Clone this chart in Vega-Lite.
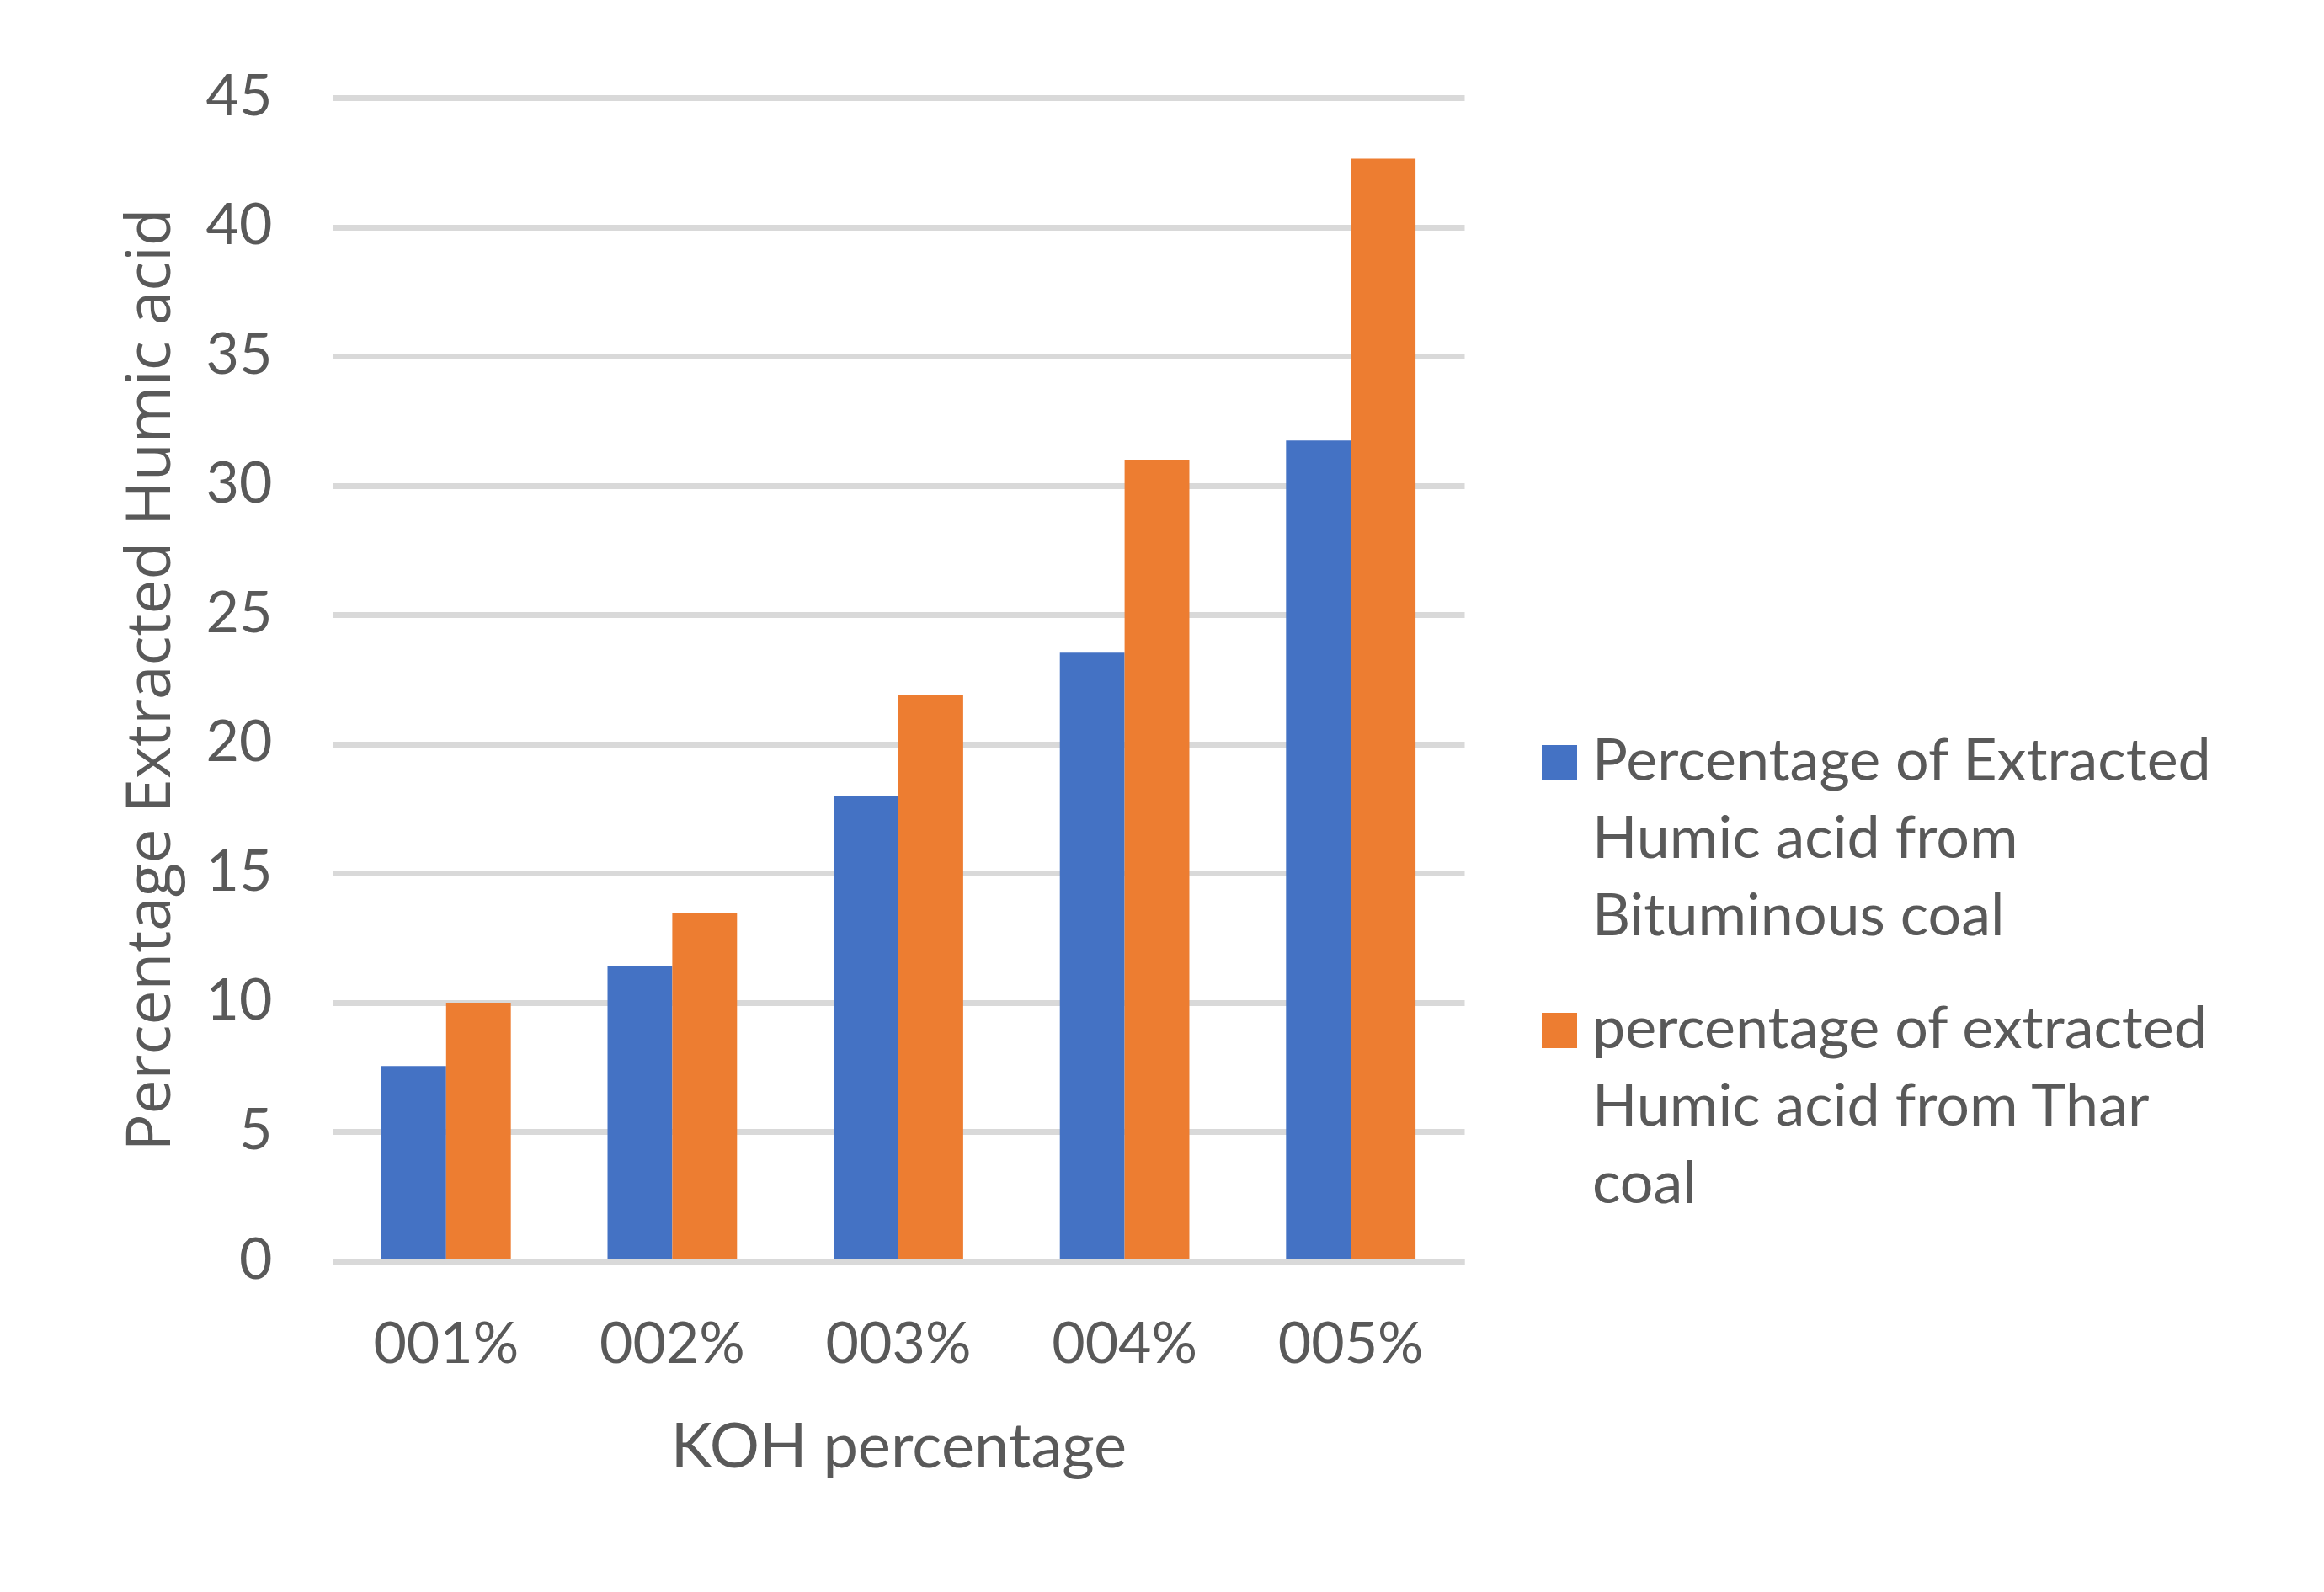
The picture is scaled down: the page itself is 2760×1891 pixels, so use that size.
{
  "$schema": "https://vega.github.io/schema/vega-lite/v6.json",
  "width": 1344,
  "height": 1382,
  "autosize": {"type": "none"},
  "padding": {"left": 395, "top": 116, "right": 1021, "bottom": 393},
  "background": "white",
  "data": {
    "values": [
      {"koh": "001%", "series": "Percentage of Extracted Humic acid from Bituminous coal", "value": 7.55},
      {"koh": "001%", "series": "percentage of extracted Humic acid from Thar coal", "value": 10.0},
      {"koh": "002%", "series": "Percentage of Extracted Humic acid from Bituminous coal", "value": 11.4},
      {"koh": "002%", "series": "percentage of extracted Humic acid from Thar coal", "value": 13.45},
      {"koh": "003%", "series": "Percentage of Extracted Humic acid from Bituminous coal", "value": 18.0},
      {"koh": "003%", "series": "percentage of extracted Humic acid from Thar coal", "value": 21.9},
      {"koh": "004%", "series": "Percentage of Extracted Humic acid from Bituminous coal", "value": 23.53},
      {"koh": "004%", "series": "percentage of extracted Humic acid from Thar coal", "value": 31.0},
      {"koh": "005%", "series": "Percentage of Extracted Humic acid from Bituminous coal", "value": 31.74},
      {"koh": "005%", "series": "percentage of extracted Humic acid from Thar coal", "value": 42.64}
    ]
  },
  "mark": {"type": "bar"},
  "encoding": {
    "x": {
      "field": "koh",
      "type": "nominal",
      "scale": {"paddingInner": 0.4275, "paddingOuter": 0.2156},
      "axis": {
        "title": "KOH percentage",
        "labelAngle": 0,
        "ticks": false,
        "tickSize": 0,
        "domain": true,
        "domainColor": "#d9d9d9",
        "domainWidth": 7,
        "zindex": 1,
        "grid": false,
        "labelFont": "Lato",
        "labelFontSize": 68,
        "labelColor": "#595959",
        "labelPadding": 66,
        "titleFont": "Lato",
        "titleFontSize": 74,
        "titleFontWeight": "normal",
        "titleColor": "#595959",
        "titleX": 672,
        "titleY": 244,
        "titleBaseline": "alphabetic",
        "titleAlign": "center"
      }
    },
    "xOffset": {
      "field": "series",
      "type": "nominal",
      "scale": {
        "domain": ["Percentage of Extracted Humic acid from Bituminous coal", "percentage of extracted Humic acid from Thar coal"],
        "paddingInner": 0,
        "paddingOuter": 0
      }
    },
    "y": {
      "field": "value",
      "type": "quantitative",
      "scale": {"domain": [0, 45], "nice": false},
      "axis": {
        "title": "Percentage Extracted Humic acid",
        "values": [0, 5, 10, 15, 20, 25, 30, 35, 40, 45],
        "grid": true,
        "gridColor": "#d9d9d9",
        "gridWidth": 7,
        "domain": false,
        "ticks": false,
        "tickSize": 0,
        "labelFont": "Lato",
        "labelFontSize": 68,
        "labelColor": "#595959",
        "labelPadding": 72,
        "titleFont": "Open Sans",
        "titleFontSize": 73,
        "titleFontWeight": "normal",
        "titleColor": "#595959",
        "titleX": -194,
        "titleY": 691,
        "titleAngle": 270,
        "titleBaseline": "alphabetic",
        "titleAlign": "center"
      }
    },
    "color": {
      "field": "series",
      "type": "nominal",
      "scale": {
        "domain": ["Percentage of Extracted Humic acid from Bituminous coal", "percentage of extracted Humic acid from Thar coal"],
        "range": ["#4472C4", "#ED7D31"]
      },
      "legend": {
        "title": null,
        "orient": "none",
        "legendX": 1422,
        "legendY": 776,
        "padding": 0,
        "symbolType": "M-1,-2H1V0H-1Z",
        "symbolSize": 1764,
        "symbolStrokeWidth": 0,
        "symbolOpacity": 1,
        "labelFont": "Lato",
        "labelFontSize": 70,
        "labelColor": "#595959",
        "labelOffset": 4,
        "labelBaseline": "alphabetic",
        "labelLimit": 2000,
        "rowPadding": 64,
        "labelExpr": "datum.label == 'Percentage of Extracted Humic acid from Bituminous coal' ? ['Percentage of Extracted', 'Humic acid from', 'Bituminous coal'] : ['percentage of extracted', 'Humic acid from Thar', 'coal']"
      }
    }
  },
  "config": {
    "view": {"stroke": null},
    "style": {"guide-label": {"lineHeight": 92}}
  }
}
